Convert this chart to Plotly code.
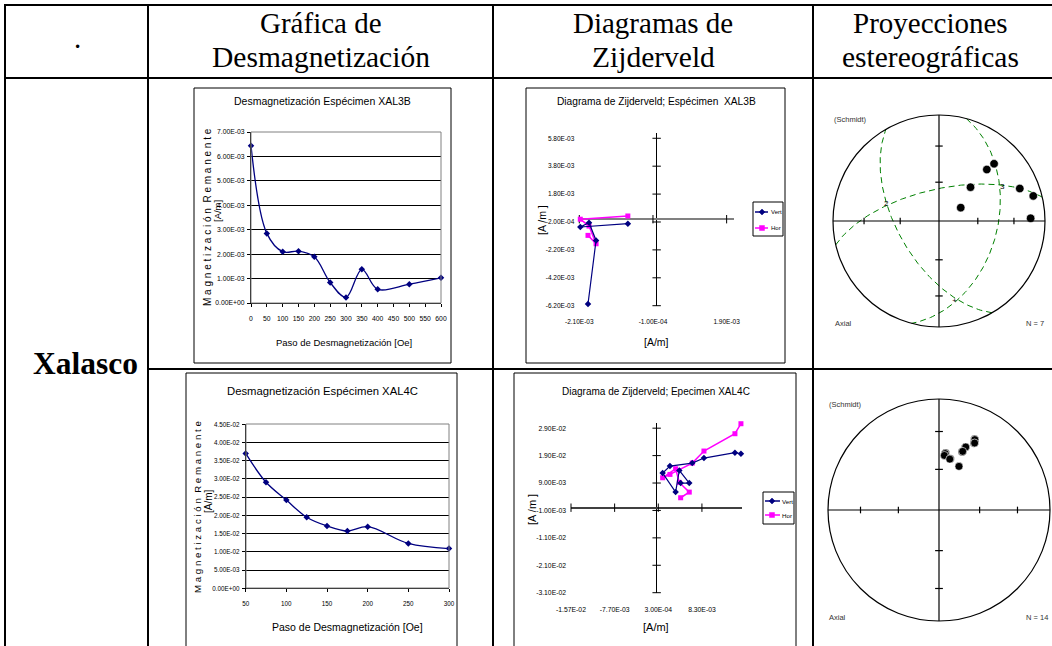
import numpy as np
import plotly.graph_objects as go

W, H = 1052, 646
NARROW = "Liberation Sans Narrow, Arial Narrow, Liberation Sans, Arial, sans-serif"
SANS = "Liberation Sans, Arial, sans-serif"
SERIF = "Liberation Serif, Times New Roman, serif"
NAVY = "#000080"
MAGENTA = "#FF00FF"
GREEN = "#008000"

# ---------------- data ----------------
header_titles = ["Gráfica de<br>Desmagnetización", "Diagramas de<br>Zijderveld", "Proyecciones<br>estereográficas"]
site_name = "Xalasco"

# Demagnetization XAL3B
demag3b_steps = [0, 50, 100, 150, 200, 250, 300, 350, 400, 500, 600]
demag3b_mag = [6.44e-3, 2.85e-3, 2.10e-3, 2.12e-3, 1.89e-3, 0.84e-3, 0.23e-3, 1.38e-3, 0.56e-3, 0.77e-3, 1.03e-3]
demag3b_xticks = [0, 50, 100, 150, 200, 250, 300, 350, 400, 450, 500, 550, 600]
demag3b_yticks = [0.0, 1e-3, 2e-3, 3e-3, 4e-3, 5e-3, 6e-3, 7e-3]

# Zijderveld XAL3B
zij3b_x = [-1.864e-3, -1.645e-3, -1.836e-3, -2.073e-3, -0.782e-3]
zij3b_vert = [-6.08e-3, -1.52e-3, -0.25e-3, -0.56e-3, -0.32e-3]
zij3b_hor = [-1.16e-3, -1.76e-3, -0.49e-3, 0.0, 0.23e-3]
zij3b_xticks = [-2.1e-3, -1.0e-4, 1.9e-3]
zij3b_yticks = [-6.2e-3, -4.2e-3, -2.2e-3, -2.0e-4, 1.8e-3, 3.8e-3, 5.8e-3]

# Stereonet XAL3B
st3b_dec = [43.9, 42.9, 43.0, 68.1, 75.1, 58.4, 88.3]
st3b_inc = [26.0, 34.1, 54.1, 19.0, 8.8, 70.4, 14.6]
st3b_plane_dipdir = [347.0, 105.0, 240.0]
st3b_plane_dip = [65.5, 44.0, 58.0]
st3b_label_text = ["2", "3", "+"]
st3b_label_dec = [287.9, 61.6, 168.9]
st3b_label_inc = [46.6, 32.8, 24.2]

# Demagnetization XAL4C
demag4c_steps = [50, 75, 100, 125, 150, 175, 200, 250, 300]
demag4c_mag = [3.70e-2, 2.91e-2, 2.42e-2, 1.95e-2, 1.71e-2, 1.57e-2, 1.69e-2, 1.23e-2, 1.09e-2]
demag4c_xticks = [50, 100, 150, 200, 250, 300]
demag4c_yticks = [0.0, 5e-3, 1e-2, 1.5e-2, 2e-2, 2.5e-2, 3e-2, 3.5e-2, 4e-2, 4.5e-2]

# Zijderveld XAL4C
zij4c_x = [1.545e-2, 1.435e-2, 0.867e-2, 0.653e-2, 0.244e-2, 0.110e-2, 0.348e-2, 0.415e-2, 0.598e-2, 0.440e-2]
zij4c_vert = [1.968e-2, 2.005e-2, 1.810e-2, 1.628e-2, 1.518e-2, 1.263e-2, 0.569e-2, 1.360e-2, 0.898e-2, 0.898e-2]
zij4c_hor = [3.063e-2, 2.698e-2, 2.066e-2, 1.628e-2, 1.214e-2, 1.092e-2, 1.421e-2, 0.922e-2, 0.569e-2, 0.363e-2]
zij4c_xticks = [-1.57e-2, -7.7e-3, 3.0e-4, 8.3e-3]
zij4c_yticks = [-3.1e-2, -2.1e-2, -1.1e-2, -1.0e-3, 9.0e-3, 1.9e-2, 2.9e-2]

# Stereonet XAL4C
st4c_dec = [26.6, 27.0, 27.7, 28.0, 22.8, 23.0, 21.5, 22.0, 6.7, 6.2, 5.6, 12.5, 12.0, 24.6]
st4c_inc = [29.2, 29.6, 32.6, 32.2, 38.7, 38.3, 42.9, 42.5, 47.1, 47.6, 49.1, 50.9, 51.3, 54.4]

stereo_tick_inc = [60.0, 30.0]


# ---------------- helpers ----------------
def fx(x):
    return x / W


def fy(y):
    return 1 - y / H


def sci(v):
    return f"{v:.2E}"


def eqarea(dec, inc):
    d = np.radians(np.asarray(dec, float))
    i = np.radians(np.abs(np.asarray(inc, float)))
    r = np.sqrt(2) * np.sin((np.pi / 2 - i) / 2)
    return r * np.sin(d), r * np.cos(d)


def great_circle(dipdir, dip):
    t = np.linspace(dipdir - 90, dipdir + 90, 181)
    p = np.degrees(np.arctan(np.tan(np.radians(dip)) * np.cos(np.radians(t - dipdir))))
    return eqarea(t, p)


shapes = []
annotations = []


def pline(x0, y0, x1, y1, color="black", width=1, dash="solid"):
    shapes.append(dict(type="line", xref="paper", yref="paper", x0=fx(x0), y0=fy(y0), x1=fx(x1), y1=fy(y1),
                       line=dict(color=color, width=width, dash=dash)))


def prect(x0, y0, x1, y1, color="black", width=1, fill="rgba(0,0,0,0)"):
    shapes.append(dict(type="rect", xref="paper", yref="paper", x0=fx(x0), y0=fy(y0), x1=fx(x1), y1=fy(y1),
                       line=dict(color=color, width=width), fillcolor=fill, layer="above"))


def ppath(pts, color):
    s = "M " + " L ".join(f"{fx(a):.5f},{fy(b):.5f}" for a, b in pts) + " Z"
    shapes.append(dict(type="path", xref="paper", yref="paper", path=s, fillcolor=color,
                       line=dict(color=color, width=0.5)))


def text(x, y, s, size, family=SANS, angle=0, xanchor="center", color="black"):
    annotations.append(dict(x=fx(x), y=fy(y), xref="paper", yref="paper", text=s, showarrow=False,
                            font=dict(size=size, family=family, color=color), textangle=angle,
                            xanchor=xanchor, yanchor="middle"))


fig = go.Figure()

# ---------------- table ----------------
pline(4, 5, 1052, 5, width=2)
pline(5, 4, 5, 646, width=2)
pline(4, 78, 1052, 78, width=2)
pline(148, 4, 148, 646, width=2)
pline(493, 4, 493, 646, width=2)
pline(813, 4, 813, 646, width=2)
pline(148, 369, 1052, 369, width=2)

text(77, 38, ".", 29, SERIF)
hdr_x = [321, 653, 930]
for hx, ht in zip(hdr_x, header_titles):
    l1, l2 = ht.split("<br>")
    text(hx, 23, l1, 29, SERIF)
    text(hx, 57, l2, 29.5, SERIF)
text(85, 364, "<b>" + site_name + "</b>", 31.5, SERIF)

# ---------------- chart boxes ----------------
prect(194, 88, 451, 363)
prect(526, 88, 785, 363)
prect(186, 373, 457, 652)
prect(514, 373, 796, 652)

# plot-area gray borders of demag charts
prect(251, 132, 441, 303, color="#808080")
prect(246, 424, 449, 588, color="#808080")

axis_common = dict(showgrid=False, zeroline=False, fixedrange=True)


def demag_axes(n, xdom, ydom, xrange, yrange, xticks, yticks, fsize, xstand):
    xa = dict(domain=[fx(xdom[0]), fx(xdom[1])], range=xrange, anchor=f"y{n}" if n > 1 else "y",
              tickvals=xticks, ticktext=[str(v) for v in xticks], showline=True, linecolor="black",
              linewidth=1, ticks="outside", ticklen=3, tickcolor="black", tickangle=0,
              tickfont=dict(family=NARROW, size=fsize, color="black"), ticklabelstandoff=xstand, **axis_common)
    ya = dict(domain=[fy(ydom[1]), fy(ydom[0])], range=yrange, anchor=f"x{n}" if n > 1 else "x",
              tickvals=yticks, ticktext=[sci(v) for v in yticks], showline=True, linecolor="black",
              linewidth=1, ticks="outside", ticklen=3, tickcolor="black",
              tickfont=dict(family=NARROW, size=fsize, color="black"), ticklabelstandoff=1,
              showgrid=True, gridcolor="black", gridwidth=1, zeroline=False, fixedrange=True)
    return xa, ya


def zij_axes(n, xdom, ydom, xrange, yrange, xticks, yticks, hcolor, hwidth, fsize, xstand):
    xa = dict(domain=[fx(xdom[0]), fx(xdom[1])], range=xrange, anchor=f"y{n}",
              tickvals=xticks, ticktext=[sci(v) for v in xticks], showline=False, ticks="", tickangle=0,
              tickfont=dict(family=NARROW, size=fsize, color="black"), ticklabelstandoff=xstand,
              showgrid=False, zeroline=True, zerolinecolor="black", zerolinewidth=1, fixedrange=True)
    ya = dict(domain=[fy(ydom[1]), fy(ydom[0])], range=yrange, anchor=f"x{n}",
              tickvals=yticks, ticktext=[sci(v) for v in yticks], showline=False, ticks="",
              tickfont=dict(family=NARROW, size=fsize, color="black"), ticklabelstandoff=4,
              showgrid=False, zeroline=True, zerolinecolor=hcolor, zerolinewidth=hwidth, fixedrange=True)
    return xa, ya


def stereo_axes(n, cx, cy, R, pad):
    rng = [-(R + pad) / R, (R + pad) / R]
    hide = dict(visible=False, showgrid=False, zeroline=False, fixedrange=True, range=rng)
    xa = dict(domain=[fx(cx - R - pad), min(1.0, fx(cx + R + pad))], anchor=f"y{n}", **hide)
    ya = dict(domain=[fy(cy + R + pad), fy(cy - R - pad)], anchor=f"x{n}", **hide)
    return xa, ya


layout_axes = {}
xa, ya = demag_axes(1, (251, 441), (132, 303), [0, 600], [0, 7e-3], demag3b_xticks, demag3b_yticks, 6.8, 6)
layout_axes["xaxis"], layout_axes["yaxis"] = xa, ya
xa, ya = zij_axes(2, (579.3, 734), (132.7, 305.7), [-2.1e-3, 2.1e-3], [-6.2e-3, 6.2e-3],
                  zij3b_xticks, zij3b_yticks, "#808080", 2, 6.5, 11)
layout_axes["xaxis2"], layout_axes["yaxis2"] = xa, ya
xa, ya = stereo_axes(3, 939, 221, 106, 5)
layout_axes["xaxis3"], layout_axes["yaxis3"] = xa, ya
xa, ya = demag_axes(4, (245.7, 449), (424.3, 588.3), [50, 300], [0, 4.5e-2], demag4c_xticks, demag4c_yticks, 6.3, 6)
layout_axes["xaxis4"], layout_axes["yaxis4"] = xa, ya
xa, ya = zij_axes(5, (571, 742.3), (422.7, 592.7), [-1.57e-2, 1.57e-2], [-3.1e-2, 3.1e-2],
                  zij4c_xticks, zij4c_yticks, "#404040", 1.5, 6.8, 11)
layout_axes["xaxis5"], layout_axes["yaxis5"] = xa, ya
xa, ya = stereo_axes(6, 939, 510, 111, 2)
layout_axes["xaxis6"], layout_axes["yaxis6"] = xa, ya

# ---------------- demag traces ----------------
for xs, ys, ax in [(demag3b_steps, demag3b_mag, ("x", "y")), (demag4c_steps, demag4c_mag, ("x4", "y4"))]:
    fig.add_trace(go.Scatter(x=xs, y=ys, mode="lines+markers", xaxis=ax[0], yaxis=ax[1],
                             line=dict(color=NAVY, width=1.3, shape="spline", smoothing=1),
                             marker=dict(symbol="diamond", size=5, color=NAVY),
                             cliponaxis=False, showlegend=False, hoverinfo="skip"))

# ---------------- zijderveld traces ----------------
for xs, vs, hs, xt, yt, ax in [(zij3b_x, zij3b_vert, zij3b_hor, zij3b_xticks, zij3b_yticks, ("x2", "y2")),
                               (zij4c_x, zij4c_vert, zij4c_hor, zij4c_xticks, zij4c_yticks, ("x5", "y5"))]:
    fig.add_trace(go.Scatter(x=[0.0] * len(yt), y=yt, mode="markers", xaxis=ax[0], yaxis=ax[1],
                             marker=dict(symbol="line-ew", size=6, line=dict(color="black", width=1)),
                             showlegend=False, hoverinfo="skip", cliponaxis=False))
    fig.add_trace(go.Scatter(x=xt, y=[0.0] * len(xt), mode="markers", xaxis=ax[0], yaxis=ax[1],
                             marker=dict(symbol="line-ns", size=6, line=dict(color="black", width=1)),
                             showlegend=False, hoverinfo="skip", cliponaxis=False))
    fig.add_trace(go.Scatter(x=xs, y=hs, mode="lines+markers", xaxis=ax[0], yaxis=ax[1], name="Hor",
                             line=dict(color=MAGENTA, width=1.5),
                             marker=dict(symbol="square", size=5, color=MAGENTA),
                             showlegend=False, hoverinfo="skip", cliponaxis=False))
    fig.add_trace(go.Scatter(x=xs, y=vs, mode="lines+markers", xaxis=ax[0], yaxis=ax[1], name="Vert",
                             line=dict(color=NAVY, width=1.2),
                             marker=dict(symbol="diamond", size=5, color=NAVY),
                             showlegend=False, hoverinfo="skip", cliponaxis=False))

# ---------------- stereonets ----------------
for n, decs, incs, msize in [(3, st3b_dec, st3b_inc, 8.5), (6, st4c_dec, st4c_inc, 8)]:
    xr, yr = f"x{n}", f"y{n}"
    shapes.append(dict(type="circle", xref=xr, yref=yr, x0=-1, y0=-1, x1=1, y1=1,
                       line=dict(color="black", width=1.2)))
    shapes.append(dict(type="line", xref=xr, yref=yr, x0=-1, y0=0, x1=1, y1=0, line=dict(color="black", width=1.2)))
    shapes.append(dict(type="line", xref=xr, yref=yr, x0=0, y0=-1, x1=0, y1=1, line=dict(color="black", width=1.2)))
    tick_r = np.sqrt(2) * np.sin(np.radians(90 - np.array(stereo_tick_inc)) / 2)
    for r in tick_r:
        for sgn in (-1, 1):
            shapes.append(dict(type="line", xref=xr, yref=yr, x0=sgn * r, y0=-0.03, x1=sgn * r, y1=0.03,
                               line=dict(color="black", width=1.2)))
            shapes.append(dict(type="line", xref=xr, yref=yr, x0=-0.035, y0=sgn * r, x1=0.035, y1=sgn * r,
                               line=dict(color="black", width=1.2)))
    if n == 3:
        for dd, dp in zip(st3b_plane_dipdir, st3b_plane_dip):
            gx, gy = great_circle(dd, dp)
            fig.add_trace(go.Scatter(x=gx, y=gy, mode="lines", xaxis=xr, yaxis=yr,
                                     line=dict(color=GREEN, width=1, dash="6px,4px"),
                                     showlegend=False, hoverinfo="skip", cliponaxis=False))
        lx, ly = eqarea(st3b_label_dec, st3b_label_inc)
        fig.add_trace(go.Scatter(x=lx, y=ly, mode="text", text=st3b_label_text, xaxis=xr, yaxis=yr,
                                 textposition="middle center",
                                 textfont=dict(family=SANS, size=8, color="black"),
                                 showlegend=False, hoverinfo="skip", cliponaxis=False))
    px_, py_ = eqarea(decs, incs)
    fig.add_trace(go.Scatter(x=px_, y=py_, mode="markers", xaxis=xr, yaxis=yr,
                             marker=dict(symbol="circle", size=msize, color="black",
                                         line=dict(color="white", width=0.6)),
                             showlegend=False, hoverinfo="skip", cliponaxis=False))

text(832, 119, "(Schmidt)", 7.5, SANS, xanchor="left", color="#333333")
text(833, 323, "Axial", 7.5, SANS, xanchor="left", color="#333333")
text(1046, 323, "N = 7", 7.5, SANS, xanchor="right", color="#333333")
text(827, 404, "(Schmidt)", 7.5, SANS, xanchor="left", color="#333333")
text(827, 617, "Axial", 7.5, SANS, xanchor="left", color="#333333")
text(1050, 617, "N = 14", 7.5, SANS, xanchor="right", color="#333333")

# ---------------- chart titles / axis titles ----------------
text(322, 101, "Desmagnetización Espécimen XAL3B", 10.5)
text(344, 342, "Paso de Desmagnetización [Oe]", 9.5)
text(207, 217, "M a g n e t i z a c i ó n  R e m a n e n t e", 10, angle=-90)
text(217, 211, "[A/m]", 9.5, angle=-90)

text(656, 101, "Diagrama de Zijderveld; Espécimen  XAL3B", 10.2)
text(656, 342, "[A/m]", 10.5)
text(542, 220, "[A /m ]", 10.5, angle=-90)

text(322, 391, "Desmagnetización Espécimen XAL4C", 11.3)
text(347, 627, "Paso de Desmagnetización [Oe]", 10.5)
text(197, 507, "M a g n e t i z a c i ó n  R e m a n e n t e", 9.7, angle=-90)
text(208, 501, "[A/m]", 10, angle=-90)

text(656, 391, "Diagrama de Zijderveld; Epecimen XAL4C", 10)
text(656, 627, "[A/m]", 11)
text(532, 510, "[A /m ]", 11, angle=-90)


# ---------------- manual legends ----------------
def legend(box, rows, lx0, lx1, mx, tx, size):
    prect(*box)
    for (ry, label, color, sym) in rows:
        pline(lx0, ry, lx1, ry, color=color, width=1.5)
        if sym == "diamond":
            ppath([(mx, ry - 3), (mx + 3, ry), (mx, ry + 3), (mx - 3, ry)], color)
        else:
            ppath([(mx - 2.5, ry - 2.5), (mx + 2.5, ry - 2.5), (mx + 2.5, ry + 2.5), (mx - 2.5, ry + 2.5)], color)
        text(tx, ry, label, size, xanchor="left")


legend((753, 202, 783, 236), [(212, "Vert", NAVY, "diamond"), (228, "Hor", MAGENTA, "square")],
       755, 768, 762, 769, 6)
legend((763, 492, 794, 524), [(501, "Vert", NAVY, "diamond"), (515, "Hor", MAGENTA, "square")],
       765, 780, 772, 780, 6.2)

fig.update_layout(width=W, height=H, margin=dict(l=0, r=0, t=0, b=0, pad=0, autoexpand=False),
                  paper_bgcolor="white", plot_bgcolor="rgba(0,0,0,0)", showlegend=False,
                  shapes=shapes, annotations=annotations, **layout_axes)
fig.write_html("out.html")
